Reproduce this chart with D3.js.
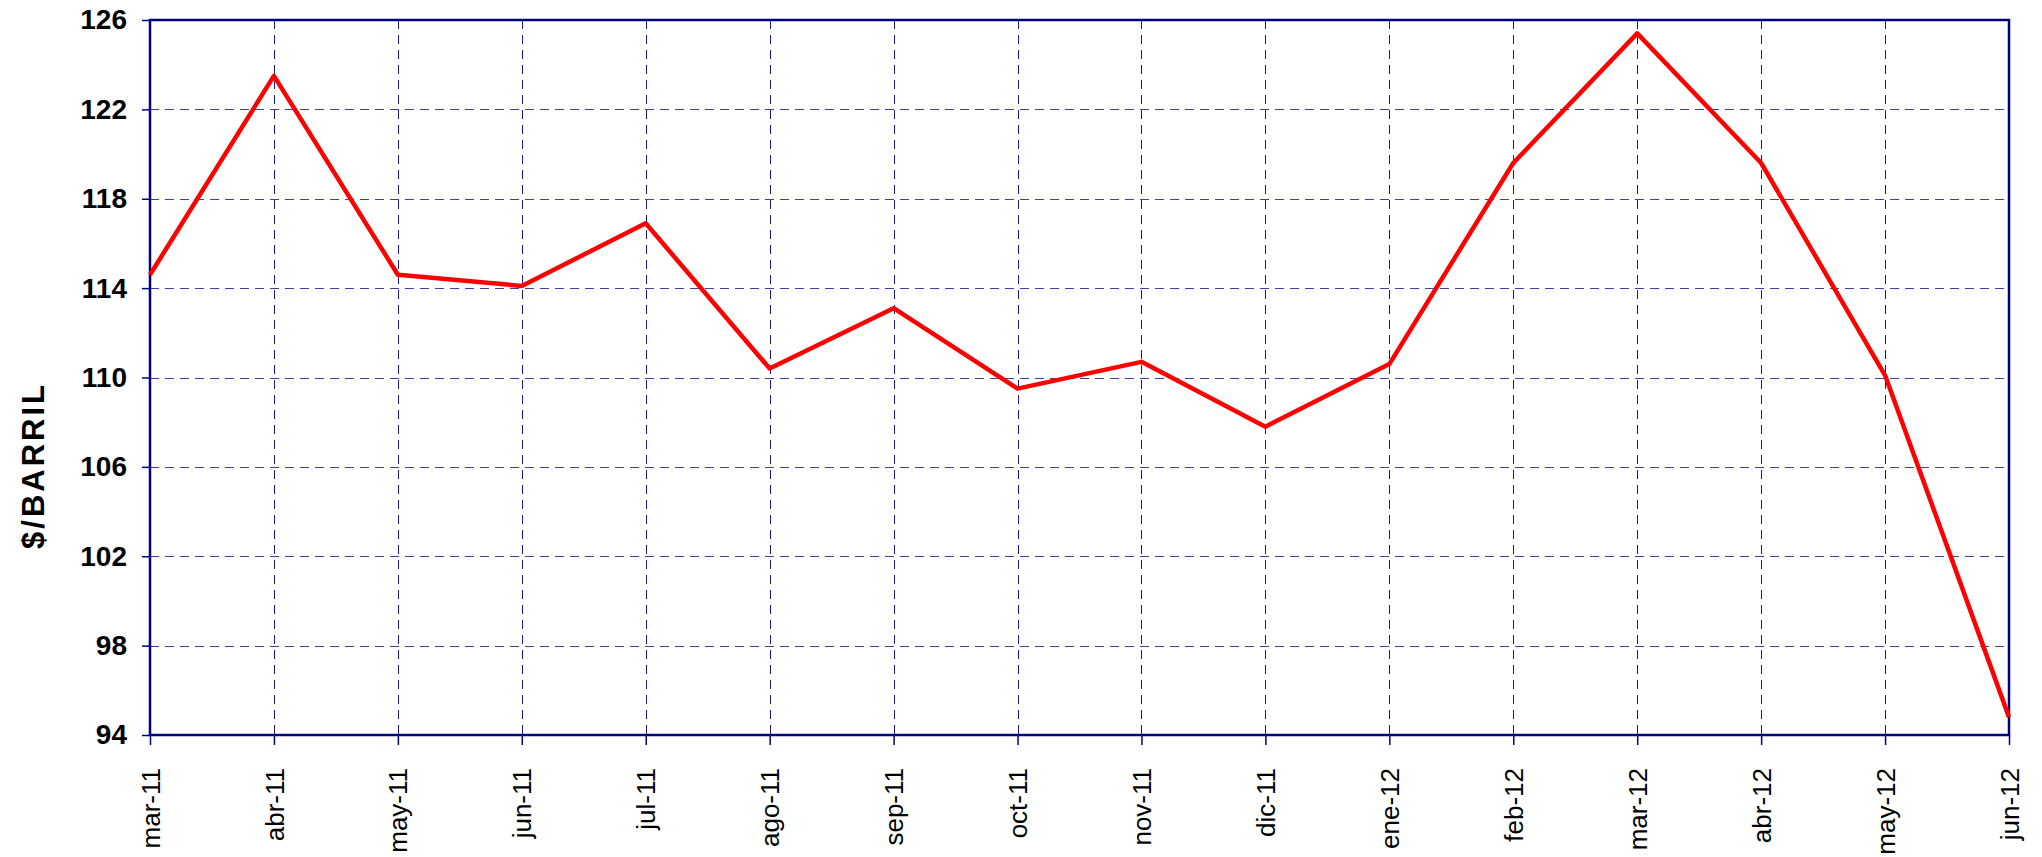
<!DOCTYPE html>
<html>
<head>
  <script src="https://d3js.org/d3.v7.min.js"></script>
  <style>
    body { margin: 0; background: #fff; }
    text { font-family: Arial, "Liberation Sans", sans-serif; }
  </style>
</head>
<body>
<div id="vis"></div>
<script>
// month labels and $/barril values
const months = ["mar-11", "abr-11", "may-11", "jun-11", "jul-11", "ago-11", "sep-11", "oct-11",
  "nov-11", "dic-11", "ene-12", "feb-12", "mar-12", "abr-12", "may-12", "jun-12"];
const prices = [114.6, 123.5, 114.6, 114.1, 116.9, 110.4, 113.1, 109.5,
  110.7, 107.8, 110.6, 119.6, 125.4, 119.6, 110.1, 94.8];
const yTicks = [94, 98, 102, 106, 110, 114, 118, 122, 126];
const yTitle = "$/BARRIL";

const width = 2042, height = 857;
const margin = { top: 20, right: 33, bottom: 122, left: 150 };
const navy = "#000080";

const svg = d3.select("#vis").append("svg")
  .attr("width", width)
  .attr("height", height);

const x = d3.scalePoint()
  .domain(months)
  .range([margin.left, width - margin.right]);

const y = d3.scaleLinear()
  .domain([94, 126])
  .range([height - margin.bottom, margin.top]);

// grid
svg.append("g")
  .selectAll("line")
  .data(yTicks.slice(1, -1))
  .join("line")
  .attr("x1", margin.left).attr("x2", width - margin.right)
  .attr("y1", d => Math.round(y(d)) + 0.5).attr("y2", d => Math.round(y(d)) + 0.5)
  .attr("stroke", navy).attr("stroke-opacity", 0.75)
  .attr("stroke-dasharray", "9,6");

svg.append("g")
  .selectAll("line")
  .data(months.slice(1, -1))
  .join("line")
  .attr("x1", d => Math.round(x(d)) + 0.5).attr("x2", d => Math.round(x(d)) + 0.5)
  .attr("y1", margin.top).attr("y2", height - margin.bottom)
  .attr("stroke", navy).attr("stroke-opacity", 0.9)
  .attr("stroke-dasharray", "9,6");

// axes
const yAxis = svg.append("g")
  .attr("transform", `translate(${margin.left},0)`)
  .call(d3.axisLeft(y).tickValues(yTicks).tickSize(8).tickPadding(15).tickSizeOuter(0));
yAxis.select(".domain").remove();
yAxis.selectAll("line").attr("stroke", navy).attr("stroke-width", 1.5);
yAxis.selectAll("text")
  .attr("font-size", 28).attr("font-weight", "bold").attr("fill", "#000");

const xAxis = svg.append("g")
  .attr("transform", `translate(0,${height - margin.bottom})`)
  .call(d3.axisBottom(x).tickSize(10).tickSizeOuter(0));
xAxis.select(".domain").remove();
xAxis.selectAll("line").attr("stroke", navy).attr("stroke-width", 1.5);
xAxis.selectAll("text")
  .attr("font-size", 26).attr("fill", "#000")
  .attr("text-anchor", "end")
  .attr("dy", "0.35em")
  .attr("transform", "translate(0,33) rotate(-90)")
  .attr("x", 0).attr("y", 0);

// plot frame
svg.append("rect")
  .attr("x", margin.left).attr("y", margin.top)
  .attr("width", width - margin.left - margin.right)
  .attr("height", height - margin.top - margin.bottom)
  .attr("fill", "none")
  .attr("stroke", navy)
  .attr("stroke-width", 2.5);

// price line
svg.append("path")
  .datum(prices)
  .attr("fill", "none")
  .attr("stroke", "#ff0000")
  .attr("stroke-width", 4.5)
  .attr("stroke-linejoin", "round")
  .attr("d", d3.line().x((d, i) => x(months[i])).y(d => y(d)));

// y title
svg.append("text")
  .attr("transform", `translate(44,${(margin.top + height - margin.bottom) / 2 + 88}) rotate(-90)`)
  .attr("font-size", 31)
  .attr("font-weight", "bold")
  .attr("letter-spacing", 3)
  .attr("text-anchor", "middle")
  .text(yTitle);
</script>
</body>
</html>
